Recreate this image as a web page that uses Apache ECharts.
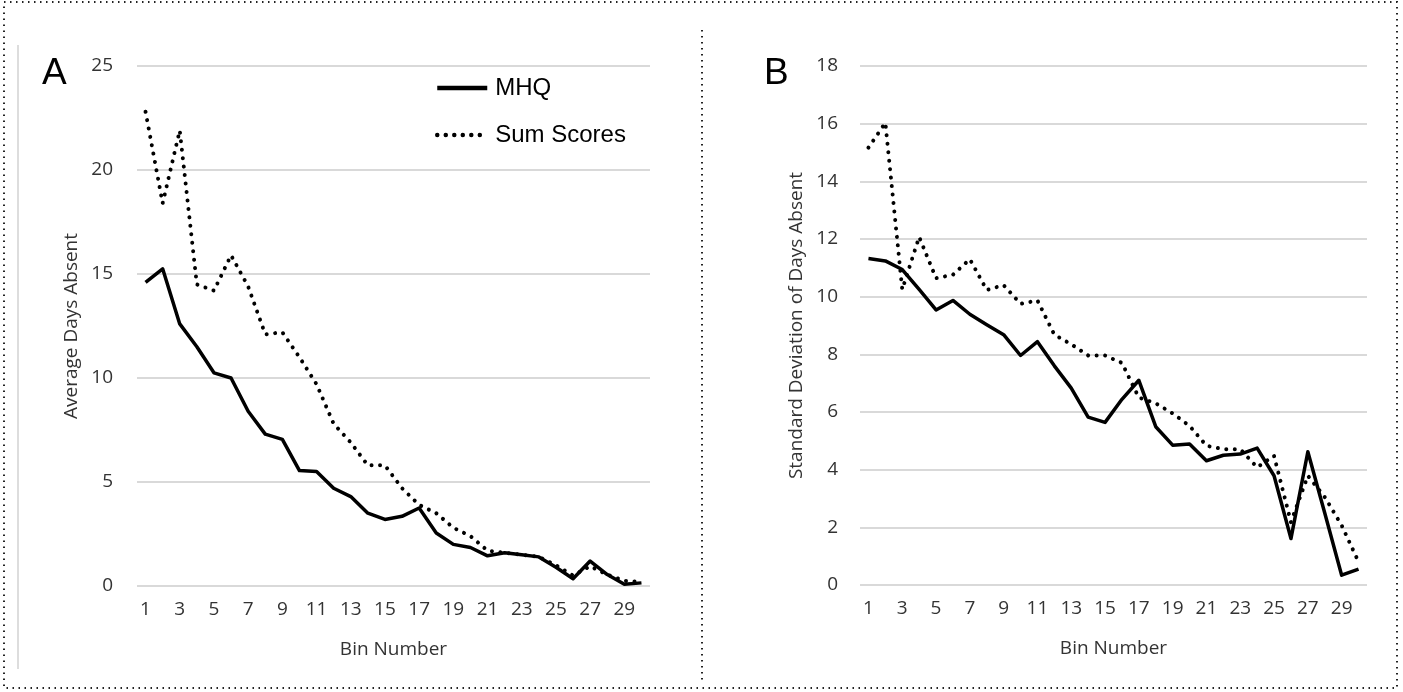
<!DOCTYPE html>
<html>
<head>
<meta charset="utf-8">
<script src="https://cdn.jsdelivr.net/npm/echarts@6/dist/echarts.min.js"></script>
<style>
	html, body { margin: 0; padding: 0; background: #fff; }
	#main { width: 1403px; height: 692px; }
</style>
</head>
<body>
<div id="main"></div>
<script>
var bins = ['1','2','3','4','5','6','7','8','9','10','11','12','13','14','15',
	'16','17','18','19','20','21','22','23','24','25','26','27','28','29','30'];

// panel A: average days absent
var mhqMean = [14.6, 15.25, 12.6, 11.5, 10.25, 10.0, 8.4, 7.3, 7.05, 5.55, 5.5, 4.7, 4.3, 3.5, 3.2,
	3.35, 3.75, 2.55, 2.0, 1.85, 1.45, 1.6, 1.5, 1.4, 0.9, 0.35, 1.2, 0.55, 0.08, 0.15];
var sumMean = [22.8, 18.4, 21.9, 14.5, 14.2, 15.9, 14.4, 12.1, 12.2, 11.0, 9.7, 7.8, 6.9, 5.8, 5.8,
	4.7, 3.9, 3.5, 2.8, 2.4, 1.7, 1.6, 1.5, 1.4, 1.0, 0.5, 0.95, 0.55, 0.25, 0.2];

// panel B: standard deviation of days absent
var mhqSd = [11.32, 11.24, 10.94, 10.25, 9.54, 9.87, 9.39, 9.03, 8.68, 7.96, 8.44, 7.6, 6.83, 5.82, 5.64,
	6.44, 7.1, 5.49, 4.85, 4.89, 4.31, 4.5, 4.54, 4.75, 3.79, 1.61, 4.62, 2.5, 0.34, 0.55];
var sumSd = [15.17, 16.03, 10.25, 12.07, 10.64, 10.76, 11.3, 10.23, 10.4, 9.75, 9.87, 8.68, 8.35, 7.96, 7.96,
	7.7, 6.5, 6.3, 5.95, 5.52, 4.83, 4.71, 4.71, 4.08, 4.48, 2.18, 3.79, 3.05, 2.07, 0.8];

var yTicksA = [0, 25, 5];   // min, max, step
var yTicksB = [0, 18, 2];

var txt = '#333';
var font = 'Open Sans';

function xAxisOf(idx){
	return {
		type: 'category',
		gridIndex: idx,
		data: bins,
		boundaryGap: true,
		name: 'Bin Number',
		nameLocation: 'middle',
		nameGap: 54,
		nameTextStyle: { color: txt, fontSize: 19, fontFamily: font },
		axisLine: { show: false },
		axisTick: { show: false },
		axisLabel: {
			interval: 1,
			margin: 14,
			color: txt,
			fontSize: 19,
			fontFamily: font
		}
	};
}

function yAxisOf(idx, ticks, title, gap, margin){
	return {
		type: 'value',
		gridIndex: idx,
		min: ticks[0],
		max: ticks[1],
		interval: ticks[2],
		name: title,
		nameLocation: 'middle',
		nameGap: gap,
		nameTextStyle: { color: txt, fontSize: 19, fontFamily: font },
		axisLine: { show: false },
		axisTick: { show: false },
		axisLabel: { color: txt, fontSize: 19, fontFamily: font, margin: margin },
		splitLine: { lineStyle: { color: '#d9d9d9', width: 2 } }
	};
}

var solid = { color: '#000', width: 3.5, type: 'solid', join: 'round' };
var dotted = { color: '#000', width: 4, type: [0.01, 8.5], cap: 'round' };

var myChart = echarts.init(document.getElementById('main'));
var option = {
	animation: false,
	backgroundColor: '#fff',
	title: [
		{ text: 'A', left: 37, top: 50, textStyle: { fontSize: 37, fontWeight: 'normal', color: '#000', fontFamily: 'Liberation Sans' } },
		{ text: 'B', left: 759, top: 50, textStyle: { fontSize: 37, fontWeight: 'normal', color: '#000', fontFamily: 'Liberation Sans' } }
	],
	legend: {
		orient: 'vertical',
		left: 430,
		top: 71,
		itemWidth: 50,
		itemHeight: 16,
		itemGap: 23,
		data: ['MHQ', 'Sum Scores'],
		itemStyle: { opacity: 0 },
		lineStyle: { width: 4.5 },
		textStyle: { fontSize: 24, color: '#000', fontFamily: 'Liberation Sans', padding: [0, 0, 0, 3] }
	},
	grid: [
		{ left: 137, right: 753, top: 66, bottom: 106 },
		{ left: 860, right: 36, top: 66, bottom: 107 }
	],
	xAxis: [xAxisOf(0), xAxisOf(1)],
	yAxis: [
		yAxisOf(0, yTicksA, 'Average Days Absent', 56, 24),
		yAxisOf(1, yTicksB, 'Standard Deviation of Days Absent', 54, 22)
	],
	graphic: [
		{ type: 'rect', silent: true, shape: { x: 4, y: 2, width: 1393, height: 686 },
			style: { fill: null, stroke: '#222', lineWidth: 2, lineDash: [1.5, 4.5] } },
		{ type: 'line', silent: true, shape: { x1: 18, y1: 45, x2: 18, y2: 669 },
			style: { stroke: '#bbb', lineWidth: 1 } },
		{ type: 'line', silent: true, shape: { x1: 702, y1: 30, x2: 702, y2: 680 },
			style: { stroke: '#222', lineWidth: 2, lineDash: [1.5, 4.5] } }
	],
	series: [
		{ name: 'MHQ', type: 'line', xAxisIndex: 0, yAxisIndex: 0, data: mhqMean,
			symbol: 'none', lineStyle: solid, itemStyle: { color: '#000' } },
		{ name: 'Sum Scores', type: 'line', xAxisIndex: 0, yAxisIndex: 0, data: sumMean,
			symbol: 'none', lineStyle: dotted, itemStyle: { color: '#000' } },
		{ name: 'MHQ', type: 'line', xAxisIndex: 1, yAxisIndex: 1, data: mhqSd,
			symbol: 'none', lineStyle: solid, itemStyle: { color: '#000' } },
		{ name: 'Sum Scores', type: 'line', xAxisIndex: 1, yAxisIndex: 1, data: sumSd,
			symbol: 'none', lineStyle: dotted, itemStyle: { color: '#000' } }
	]
};
myChart.setOption(option);
</script>
</body>
</html>
